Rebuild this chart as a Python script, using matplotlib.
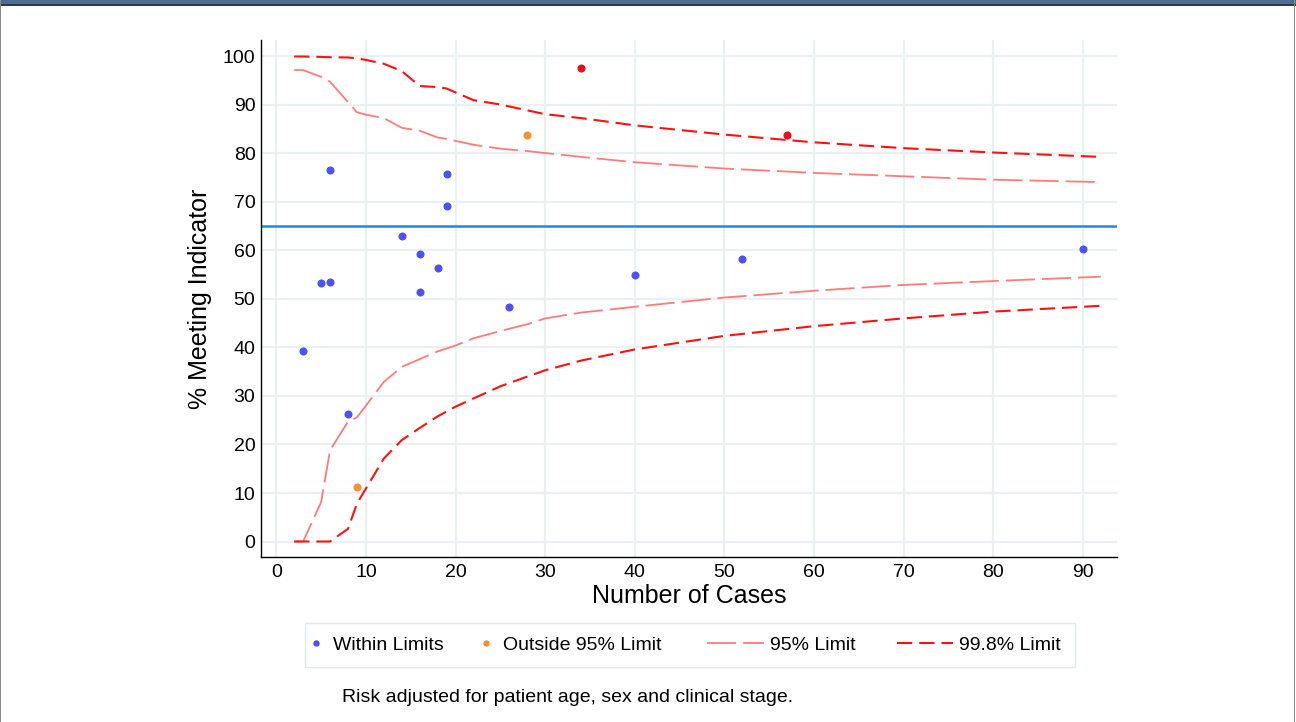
import matplotlib
matplotlib.use("Agg")
import matplotlib.pyplot as plt
from matplotlib.patches import Rectangle

plt.rcParams["font.family"] = ["Liberation Sans", "DejaVu Sans"]
plt.rcParams["lines.scale_dashes"] = False

# ---- data ----
within_n = [3, 5, 6, 6, 8, 14, 16, 16, 18, 19, 19, 26, 40, 52, 90]
within_pct = [39.3, 53.4, 53.5, 76.6, 26.2, 62.9, 59.2, 51.5, 56.3, 69.1, 75.8, 48.4, 54.9, 58.2, 60.4]

out95_n = [9, 28]
out95_pct = [11.3, 83.8]

out998_n = [34, 57]
out998_pct = [97.6, 83.9]

mean_pct = 65

limit_n = [2, 3, 5, 6, 8, 9, 10, 12, 14, 16, 18, 19, 20, 22, 25, 28, 30, 34, 40, 50, 60, 70, 80, 92]
upper95 = [97.2, 97.2, 95.8, 94.8, 90.6, 88.5, 88.0, 87.3, 85.3, 84.7, 83.3, 83.0, 82.6, 81.8,
           81.0, 80.5, 80.1, 79.3, 78.2, 76.9, 76.0, 75.3, 74.6, 74.1]
lower95 = [0, 0, 8.1, 18.8, 24.7, 25.6, 28.0, 32.9, 36.0, 37.6, 39.2, 39.8, 40.4, 41.9,
           43.4, 44.8, 46.0, 47.2, 48.4, 50.3, 51.7, 52.9, 53.7, 54.6]
upper998 = [100, 100, 99.9, 99.85, 99.8, 99.6, 99.3, 98.5, 97.0, 93.9, 93.7, 93.4, 92.6, 91.0,
            90.1, 88.9, 88.1, 87.3, 85.8, 83.9, 82.3, 81.1, 80.2, 79.3]
lower998 = [0, 0, 0, 0, 2.6, 7.8, 10.9, 17.1, 20.9, 23.4, 25.8, 26.8, 27.8, 29.5,
            32.0, 34.0, 35.3, 37.3, 39.6, 42.4, 44.4, 46.0, 47.4, 48.6]

x_ticks = list(range(0, 91, 10))
y_ticks = list(range(0, 101, 10))

BLUE = "#5050f7"
ORANGE = "#f59234"
RED_PT = "#ee0a1c"
C95 = "#ff7b7b"
C998 = "#ff1010"
MEAN_C = "#1e88e5"
GRID_C = "#ebf0f2"

fig = plt.figure(figsize=(12.96, 7.22), dpi=100)
ax = fig.add_axes([0.2014, 0.2285, 0.6605, 0.7161])

ax.set_xlim(-1.7, 93.8)
ax.set_ylim(-3.2, 103.4)
ax.set_xticks(x_ticks)
ax.set_yticks(y_ticks)
ax.grid(True, color=GRID_C, linewidth=1.6, zorder=0)
ax.set_axisbelow(True)

for s in ["top", "right"]:
    ax.spines[s].set_visible(False)
for s in ["left", "bottom"]:
    ax.spines[s].set_linewidth(1.0)
    ax.spines[s].set_color("black")

ax.tick_params(axis="x", length=0, labelsize=14, pad=5)
ax.tick_params(axis="y", length=0, labelsize=14, pad=4)

l95, = ax.plot(limit_n, upper95, color=C95, linewidth=1.3, dashes=(21, 5), zorder=3)
ax.plot(limit_n, lower95, color=C95, linewidth=1.3, dashes=(21, 5), zorder=3)
l998, = ax.plot(limit_n, upper998, color=C998, linewidth=1.5, dashes=(11, 5), zorder=3)
ax.plot(limit_n, lower998, color=C998, linewidth=1.5, dashes=(11, 5), zorder=3)

ax.axhline(mean_pct, color=MEAN_C, linewidth=1.8, zorder=2)

p_in, = ax.plot(within_n, within_pct, "o", color=BLUE, markersize=4.8, zorder=4)
p_out, = ax.plot(out95_n, out95_pct, "o", color=ORANGE, markersize=4.8, zorder=4)
ax.plot(out998_n, out998_pct, "o", color=RED_PT, markersize=4.8, zorder=4)

ax.set_xlabel("Number of Cases", fontsize=18, labelpad=2)
ax.set_ylabel("% Meeting Indicator", fontsize=18, labelpad=8)

# legend: dot entries and line entries need different handle widths,
# so two frameless legends sit inside one shared frame
leg_y = 1 - 645 / 722
fig.patches.append(Rectangle((305 / 1296, 1 - 667 / 722), 770 / 1296, 44 / 722,
                             transform=fig.transFigure, facecolor="white",
                             edgecolor="#e2e9ed", linewidth=1.0, zorder=0))

fig.legend([p_in, p_out], ["Within Limits", "Outside 95% Limit"],
           loc="center left", bbox_to_anchor=(308 / 1296, leg_y), ncol=2,
           fontsize=14, handlelength=0.8, handletextpad=0.5,
           columnspacing=1.75, borderpad=0, borderaxespad=0,
           frameon=False, markerscale=0.75)
fig.legend([l95, l998], ["95% Limit", "99.8% Limit"],
           loc="center right", bbox_to_anchor=(1061 / 1296, leg_y), ncol=2,
           fontsize=14, handlelength=2.9, handletextpad=0.3,
           columnspacing=2.15, borderpad=0, borderaxespad=0,
           frameon=False)

fig.text(342 / 1296, 1 - 697 / 722, "Risk adjusted for patient age, sex and clinical stage.",
         ha="left", va="center", fontsize=14)

# page frame: header band and thin side borders
fig.patches.append(Rectangle((0, 1 - 4 / 722), 1, 4 / 722, transform=fig.transFigure,
                             facecolor="#4e6d90", edgecolor="none"))
fig.patches.append(Rectangle((0, 1 - 5.5 / 722), 1, 1.5 / 722, transform=fig.transFigure,
                             facecolor="#2e3a46", edgecolor="none"))
fig.patches.append(Rectangle((0, 0), 1.2 / 1296, 1, transform=fig.transFigure,
                             facecolor="#8a8a8a", edgecolor="none"))
fig.patches.append(Rectangle((1 - 2.5 / 1296, 0), 1.2 / 1296, 1, transform=fig.transFigure,
                             facecolor="#8a8a8a", edgecolor="none"))

fig.savefig("out.png", dpi=100)
